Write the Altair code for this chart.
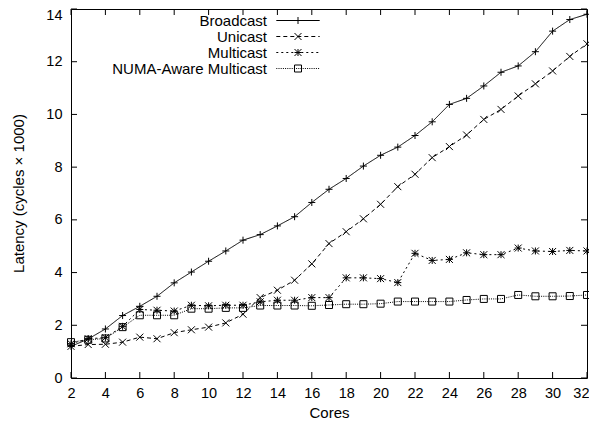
import altair as alt
import pandas as pd

# ---------------- data ----------------
cores = list(range(2, 33))
broadcast = [1.20, 1.48, 1.86, 2.37, 2.72, 3.10, 3.61, 4.02, 4.43, 4.82, 5.23, 5.44, 5.77, 6.12, 6.66,
             7.16, 7.57, 8.04, 8.45, 8.76, 9.20, 9.72, 10.38, 10.61, 11.08, 11.60, 11.84, 12.38, 13.16, 13.60, 13.80]
unicast = [1.20, 1.27, 1.28, 1.36, 1.55, 1.49, 1.72, 1.83, 1.93, 2.09, 2.42, 3.05, 3.33, 3.71, 4.33,
           5.10, 5.55, 6.04, 6.59, 7.26, 7.73, 8.36, 8.78, 9.22, 9.81, 10.19, 10.70, 11.16, 11.65, 12.20, 12.68]
multicast = [1.30, 1.49, 1.53, 1.96, 2.60, 2.57, 2.54, 2.76, 2.74, 2.76, 2.76, 2.89, 2.95, 2.95, 3.05,
             3.05, 3.80, 3.80, 3.77, 3.62, 4.73, 4.46, 4.50, 4.75, 4.68, 4.68, 4.93, 4.82, 4.80, 4.84, 4.82]
numa = [1.36, 1.45, 1.50, 1.93, 2.38, 2.38, 2.38, 2.63, 2.63, 2.66, 2.66, 2.75, 2.75, 2.75, 2.74,
        2.77, 2.80, 2.80, 2.82, 2.90, 2.90, 2.90, 2.90, 2.96, 3.00, 3.00, 3.15, 3.10, 3.10, 3.11, 3.15]

series_names = ["Broadcast", "Unicast", "Multicast", "NUMA-Aware Multicast"]
x_ticks = list(range(2, 33, 2))
y_ticks = list(range(0, 15, 2))

rows = []
for name, vals in zip(series_names, [broadcast, unicast, multicast, numa]):
    for c, v in zip(cores, vals):
        rows.append({"cores": c, "latency": v, "series": name})
df = pd.DataFrame(rows)
xt = pd.DataFrame({"cores": x_ticks})
yt = pd.DataFrame({"latency": y_ticks})

# ---------------- styles ----------------
FONT = "Liberation Sans"
W, H = 516, 369
TICK = 6
MSIZE = 49          # marker path units +-1 -> 7 px
SCALE = (MSIZE ** 0.5) / 2
SHIFT = 11.0        # legend sample drawn to the right of its label (in path units)

plus = "M-1,0L1,0M0,-1L0,1"
cross = "M-1,-1L1,1M-1,1L1,-1"
star = plus + cross
square = "M-1,-1L1,-1L1,1L-1,1Z"
markers = [plus, cross, star, square]
dashes = [[1, 0], [4, 3], [2, 3], [1, 1.2]]


def shift_marker(path, dx):
    out = []
    tok = ""
    for ch in path:
        if ch in "MLZ":
            if tok:
                out.append(tok)
            tok = ch
        else:
            tok += ch
    out.append(tok)
    res = ""
    for t in out:
        if t == "Z":
            res += "Z"
        else:
            x, y = t[1:].split(",")
            res += f"{t[0]}{float(x) + dx:.3f},{y}"
    return res


def dash_path(dash, gap, half=6.2, s=SCALE, dx=SHIFT):
    if gap == 0:
        return f"M{-half + dx:.3f},0L{half + dx:.3f},0"
    out = []
    x = -half * s
    end = half * s
    while x < end:
        x2 = min(x + dash, end)
        out.append(f"M{x / s + dx:.3f},0L{x2 / s + dx:.3f},0")
        x = x2 + gap
    return "".join(out)


legend_shapes = [dash_path(d[0], d[1]) + shift_marker(m, SHIFT) for d, m in zip(dashes, markers)]

x_enc = alt.X("cores:Q",
              scale=alt.Scale(domain=[2, 32], nice=False, zero=False),
              axis=alt.Axis(values=x_ticks, title="Cores", ticks=False, domain=False, grid=False,
                            labelFont=FONT, labelFontSize=14.5, labelColor="black", labelPadding=8,
                            labelAlign={"condition": {"test": "datum.value == 32", "value": "right"},
                                        "value": "center"},
                            labelOffset={"condition": {"test": "datum.value == 32", "value": 2},
                                         "value": 0},
                            titleFont=FONT, titleFontSize=15, titleFontWeight="normal", titleColor="black",
                            titleX=258, titleY=34, titleBaseline="middle"))
y_enc = alt.Y("latency:Q",
              scale=alt.Scale(domain=[0, 14], nice=False),
              axis=alt.Axis(values=y_ticks, title="Latency (cycles \u00d7 1000)", ticks=False, domain=False,
                            grid=False, labelFont=FONT, labelFontSize=14.5, labelColor="black", labelPadding=9,
                            labelOffset={"condition": {"test": "datum.value == 14", "value": 6.5},
                                         "value": 0},
                            titleFont=FONT, titleFontSize=15, titleFontWeight="normal", titleColor="black",
                            titleX=-52.5, titleY=184, titleBaseline="middle", titleAngle=270))

base = alt.Chart(df)

lines = base.mark_line(color="black", strokeWidth=1).encode(
    x=x_enc, y=y_enc,
    strokeDash=alt.StrokeDash("series:N", scale=alt.Scale(domain=series_names, range=dashes), legend=None),
    detail="series:N",
)

points = base.mark_point(color="black", filled=False, strokeWidth=1, size=MSIZE, opacity=1).encode(
    x=x_enc, y=y_enc,
    shape=alt.Shape("series:N", scale=alt.Scale(domain=series_names, range=markers), legend=None),
)

legend_layer = base.mark_point(color="black", filled=False, strokeWidth=1, size=MSIZE, opacity=0).encode(
    x=x_enc, y=y_enc,
    shape=alt.Shape("series:N", scale=alt.Scale(domain=series_names, range=legend_shapes),
                    legend=alt.Legend(title=None, orient="none", legendX=181, legendY=4,
                                      symbolSize=MSIZE, symbolStrokeColor="black", symbolStrokeWidth=1,
                                      symbolFillColor="transparent", symbolOpacity=1,
                                      labelFont=FONT, labelFontSize=15, labelColor="black",
                                      labelAlign="right", labelOffset=0, labelLimit=400,
                                      rowPadding=0, padding=0)),
)

tick_bottom = alt.Chart(xt).mark_rule(color="black", strokeWidth=1).encode(
    x=x_enc, y=alt.value(H), y2=alt.value(H - TICK))
tick_top = alt.Chart(xt).mark_rule(color="black", strokeWidth=1).encode(
    x=x_enc, y=alt.value(0), y2=alt.value(TICK))
tick_left = alt.Chart(yt).mark_rule(color="black", strokeWidth=1).encode(
    y=y_enc, x=alt.value(0), x2=alt.value(TICK))
tick_right = alt.Chart(yt).mark_rule(color="black", strokeWidth=1).encode(
    y=y_enc, x=alt.value(W), x2=alt.value(W - TICK))

chart = alt.layer(
    tick_bottom, tick_top, tick_left, tick_right, lines, points, legend_layer
).resolve_scale(shape="independent").properties(
    width=W, height=H,
    padding={"left": 63, "top": 1, "right": 2, "bottom": 42},
    autosize=alt.AutoSizeParams(type="none"),
    background="white",
).configure_view(stroke="black", strokeWidth=1)

chart.save("out.html", embed_options={"renderer": "svg", "actions": False})
